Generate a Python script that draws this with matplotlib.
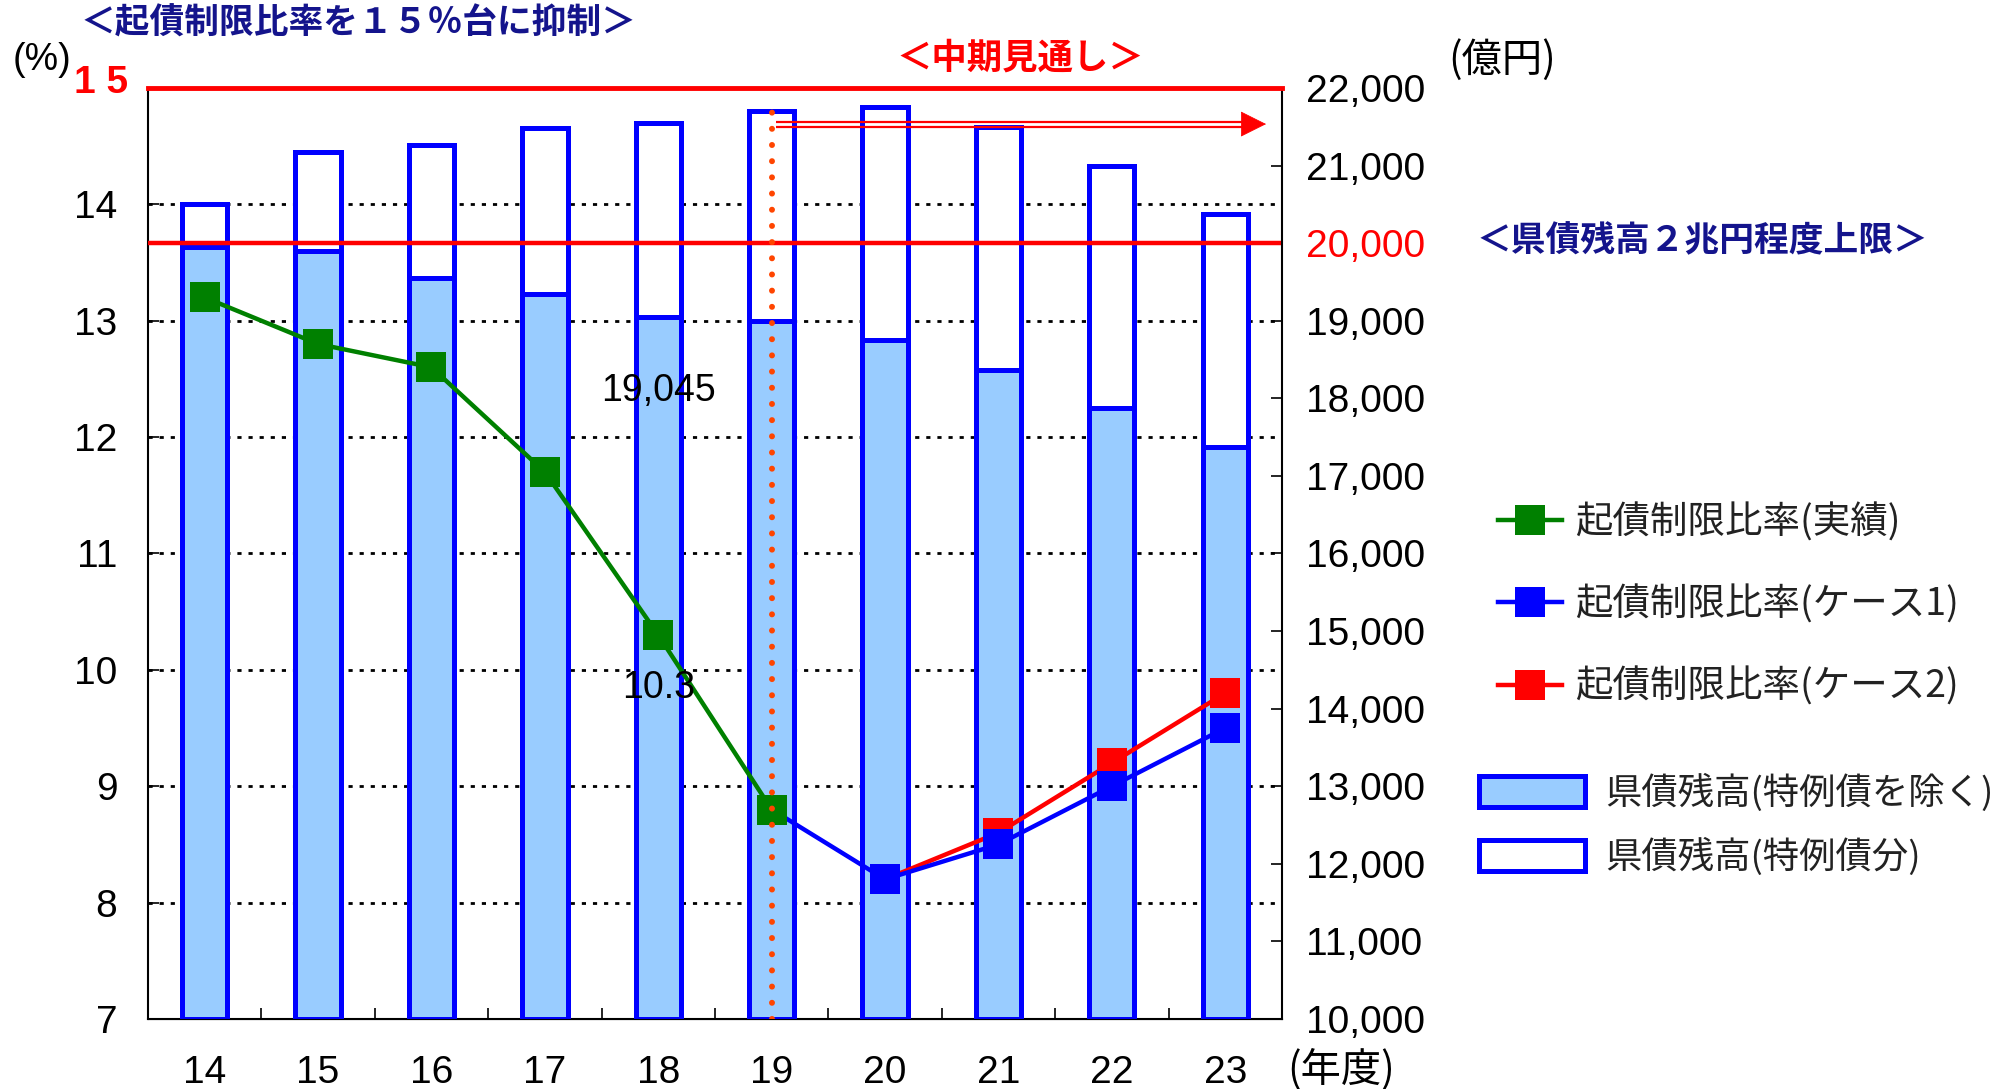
import numpy as np
import matplotlib
matplotlib.use("Agg")
import matplotlib.pyplot as plt
from matplotlib.ticker import FuncFormatter

plt.rcParams['font.family'] = ['Liberation Sans', 'Noto Sans CJK JP']

# data (fiscal years H14 - H23)
years = ['14', '15', '16', '17', '18', '19', '20', '21', '22', '23']
ratio_actual = [13.2, 12.8, 12.6, 11.7, 10.3, 8.8]      # 14-19
ratio_case1 = [8.8, 8.2, 8.5, 9.0, 9.5]                 # 19-23
ratio_case2 = [8.2, 8.6, 9.2, 9.8]                      # 20-23
debt_excl = [19950, 19900, 19550, 19350, 19045, 19000, 18750, 18370, 17880, 17370]
debt_total = [20500, 21170, 21270, 21490, 21550, 21700, 21750, 21500, 21000, 20370]

legend_lines = ['起債制限比率(実績)', '起債制限比率(ケース1)', '起債制限比率(ケース2)']
legend_bars = ['県債残高(特例債を除く)', '県債残高(特例債分)']

navy = '#14148C'
jp = ['Noto Sans CJK JP']
x = np.arange(len(years))

fig = plt.figure(figsize=(20.08, 10.89), dpi=100)
ax = fig.add_axes([0.0737, 0.0643, 0.5647, 0.8549])

# left axis (ratio %) with dotted grid
ax.set_xlim(-0.5, 9.5)
ax.set_ylim(7, 15)
ax.set_yticks(range(7, 16))
ax.set_yticklabels([str(v) for v in range(7, 15)] + [''])
ax.tick_params(axis='y', direction='in', length=8, width=1.2, pad=22, labelsize=28)
ax.text(-0.0176, 1.0054, '1 5', transform=ax.transAxes, ha='right', va='center',
        fontsize=28, fontweight='bold', color='red')
ax.yaxis.grid(True, linestyle=(0, (1.5, 2.5)), color='black', linewidth=2)
ax.set_axisbelow(True)
ax.set_xticks(x, years)
ax.set_xticks(x[:-1] + 0.5, minor=True)
ax.tick_params(axis='x', which='major', length=0, pad=26, labelsize=28)
ax.tick_params(axis='x', which='minor', direction='in', length=8, width=1.2)
ax.spines['top'].set_visible(False)
ax.spines['right'].set_visible(False)
for s in ['left', 'bottom']:
    ax.spines[s].set_linewidth(1.5)

# right axis (debt, 100 million yen) with bars
axb = ax.twinx()
axb.set_ylim(10000, 22000)
axb.set_yticks(range(10000, 22001, 1000))
axb.yaxis.set_major_formatter(FuncFormatter(lambda v, p: f'{int(v):,}'))
axb.tick_params(axis='y', direction='in', length=8, width=1.2, pad=17, labelsize=28)
for lab in axb.get_yticklabels():
    if lab.get_text() == '20,000':
        lab.set_color('red')
axb.spines['top'].set_visible(False)
axb.spines['left'].set_visible(False)
axb.spines['right'].set_linewidth(1.5)
base = 10000
b1 = axb.bar(x, np.array(debt_excl) - base, bottom=base, width=0.40,
             color='#99CCFF', edgecolor='#0000FF', linewidth=3.6)
b2 = axb.bar(x, np.subtract(debt_total, debt_excl), bottom=debt_excl, width=0.40,
             color='white', edgecolor='#0000FF', linewidth=3.6)
axb.axhline(20000, color='red', lw=3.2)
axb.annotate(f'{debt_excl[4]:,}', (x[4], debt_excl[4]), xytext=(0, -53),
             textcoords='offset points', ha='center', va='center', fontsize=27)

# lines on top
axl = ax.twinx()
axl.set_ylim(7, 15)
axl.yaxis.set_visible(False)
for s in axl.spines.values():
    s.set_visible(False)
l2 = axl.plot(x[5:], ratio_case1, color='#0000FF', marker='s', ms=21, mew=0, lw=3.2,
              markevery=list(range(1, len(ratio_case1))), zorder=2)[0]
l3 = axl.plot(x[6:], ratio_case2, color='red', marker='s', ms=21, mew=0, lw=3.2, zorder=1)[0]
l1 = axl.plot(x[:6], ratio_actual, color='green', marker='s', ms=21, mew=0, lw=3.2, zorder=3)[0]
axl.annotate(f'{ratio_actual[4]}', (x[4], ratio_actual[4]), xytext=(0, -38),
             textcoords='offset points', ha='center', va='center', fontsize=27)

axl.axhline(15, color='red', lw=3.5, clip_on=False, zorder=5)
axl.axvline(x[5], ymin=0, ymax=(14.9 - 7) / 8, color='#FF4500', lw=4.3,
            linestyle=(0, (0.01, 2.7)), dash_capstyle='round', zorder=6)
# mid-term outlook arrow
axl.hlines([14.71, 14.665], x[5] + 0.04, 9.16, color='red', lw=1.6, zorder=5)
axl.annotate('', xy=(9.36, 14.69), xytext=(9.15, 14.69),
             arrowprops=dict(arrowstyle='-|>,head_length=0.86,head_width=0.43',
                             color='red', lw=0.5, shrinkA=0, shrinkB=0, mutation_scale=20),
             zorder=5)

# texts
fig.text(0.1783, 0.9789, '＜起債制限比率を１５％台に抑制＞', ha='center', va='center',
         fontsize=25, fontweight='bold', color=navy, family=jp)
fig.text(0.508, 0.9467, '＜中期見通し＞', ha='center', va='center',
         fontsize=25.5, fontweight='bold', color='red', family=jp)
fig.text(0.8476, 0.7787, '＜県債残高２兆円程度上限＞', ha='center', va='center',
         fontsize=25, fontweight='bold', color=navy, family=jp)
fig.text(0.0209, 0.945, '(%)', ha='center', va='center', fontsize=27)
fig.text(0.748, 0.945, '(億円)', ha='center', va='center', fontsize=29, family=jp)
fig.text(0.668, 0.0175, '(年度)', ha='center', va='center', fontsize=29, family=jp)

# legends
fig.legend(handles=[l1, l2, l3], labels=legend_lines, loc='upper left',
           bbox_to_anchor=(0.746, 0.5381), frameon=False, numpoints=1,
           prop={'family': jp, 'size': 27}, handlelength=1.7, handletextpad=0.35,
           labelspacing=1.15, borderpad=0, borderaxespad=0, labelcolor='#222222')
fig.legend(handles=[b1, b2], labels=legend_bars, loc='upper left',
           bbox_to_anchor=(0.7366, 0.2897), frameon=False,
           prop={'family': jp, 'size': 26.2}, handlelength=2.92, handleheight=0.93,
           handletextpad=0.55, labelspacing=0.72, borderpad=0, borderaxespad=0,
           labelcolor='#222222')

fig.savefig('out.png', dpi=100)
